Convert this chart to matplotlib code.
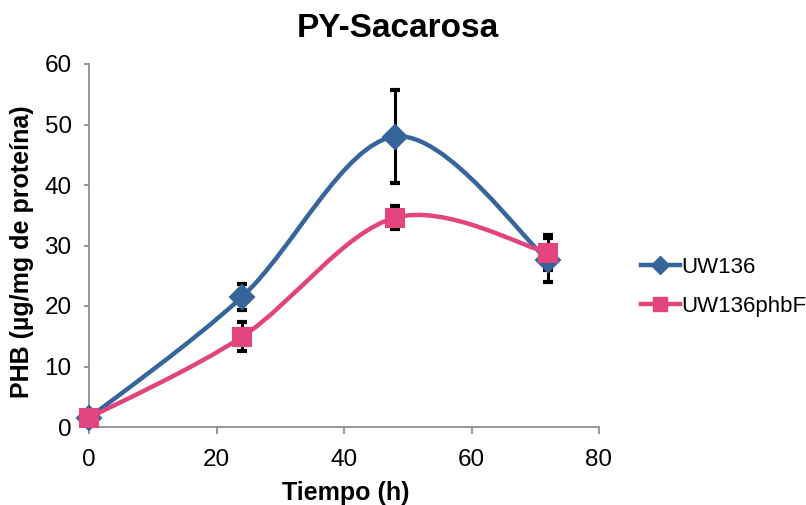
import numpy as np
import matplotlib
matplotlib.use("Agg")
import matplotlib.pyplot as plt
from matplotlib.path import Path
from matplotlib.patches import PathPatch
from matplotlib.lines import Line2D

plt.rcParams['font.family'] = ['Liberation Sans', 'DejaVu Sans']

tiempo = [0, 24, 48, 72]
uw136 = [1.5, 21.5, 48.0, 27.6]
uw136_err = [0.0, 2.1, 7.7, 3.6]
phbf = [1.5, 14.9, 34.6, 28.8]
phbf_err = [0.0, 2.4, 1.9, 2.9]

series_names = ["UW136", "UW136phbF"]
colors = ["#35659A", "#E2457E"]

W, H = 806, 505
fig = plt.figure(figsize=(W / 100, H / 100), dpi=100)
ax = fig.add_axes([89 / W, 1 - 427 / H, (599 - 89) / W, (427 - 64) / H])


def smooth_path(xs, ys):
    # Catmull-Rom style Bezier smoothing (like spreadsheet "smoothed line")
    xs = np.asarray(xs, float)
    ys = np.asarray(ys, float)
    verts = [(xs[0], ys[0])]
    codes = [Path.MOVETO]
    n = len(xs)
    for i in range(n - 1):
        p0 = (xs[max(i - 1, 0)], ys[max(i - 1, 0)])
        p1 = (xs[i], ys[i])
        p2 = (xs[i + 1], ys[i + 1])
        p3 = (xs[min(i + 2, n - 1)], ys[min(i + 2, n - 1)])
        c1 = (p1[0] + (p2[0] - p0[0]) / 6, p1[1] + (p2[1] - p0[1]) / 6)
        c2 = (p2[0] - (p3[0] - p1[0]) / 6, p2[1] - (p3[1] - p1[1]) / 6)
        verts += [c1, c2, p2]
        codes += [Path.CURVE4] * 3
    return Path(verts, codes)


data = [(uw136, uw136_err, 'D', 12.5), (phbf, phbf_err, 's', 13.5)]
for (ys, errs, mk, ms), col in zip(data, colors):
    ax.errorbar(tiempo, ys, yerr=errs, fmt='none', ecolor='black',
                elinewidth=2.2, capsize=3.6, capthick=3, zorder=2)
    patch = PathPatch(smooth_path(tiempo, ys), facecolor='none',
                      edgecolor=col, lw=3.2, zorder=3, capstyle='round')
    ax.add_patch(patch)
    ax.plot(tiempo, ys, linestyle='none', marker=mk, markersize=ms,
            markerfacecolor=col, markeredgecolor=col, markeredgewidth=1.5,
            zorder=4, clip_on=False)

ax.set_xlim(0, 80)
ax.set_ylim(0, 60)
ax.set_xticks([0, 20, 40, 60, 80])
ax.set_yticks([0, 10, 20, 30, 40, 50, 60])
for s in ['top', 'right']:
    ax.spines[s].set_visible(False)
for s in ['left', 'bottom']:
    ax.spines[s].set_color('#868686')
    ax.spines[s].set_linewidth(1.2)
ax.tick_params(axis='both', colors='#868686', labelcolor='black',
               labelsize=17.5, width=1.2, direction='out')
ax.tick_params(axis='y', length=3.5, pad=9)
ax.tick_params(axis='x', length=5, pad=11)

fig.text(346 / W, 1 - 500 / H, "Tiempo (h)", fontsize=18, fontweight='bold',
         ha='center', va='baseline')
fig.text(22 / W, 1 - 252 / H, "PHB (µg/mg de proteína)", fontsize=18,
         fontweight='bold', ha='center', va='center', rotation=90)
fig.text(398 / W, 1 - 37 / H, "PY-Sacarosa", fontsize=24, fontweight='bold',
         ha='center', va='baseline')

handles = [Line2D([0], [0], color=colors[0], lw=3.2, marker='D', markersize=9.5),
           Line2D([0], [0], color=colors[1], lw=3.2, marker='s', markersize=10.5)]
leg = fig.legend(handles, series_names, loc='upper left',
                 bbox_to_anchor=(641 / W, 1 - 257 / H),
                 frameon=False, fontsize=16, handlelength=1.75,
                 handletextpad=0.05, labelspacing=0.8, borderpad=0,
                 borderaxespad=0)

fig.savefig("out.png", dpi=100)
